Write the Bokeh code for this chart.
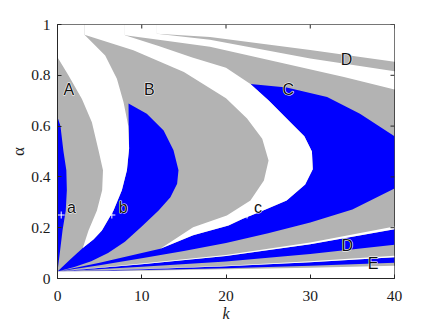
from bokeh.plotting import figure
from bokeh.models import Range1d, FixedTicker, NumeralTickFormatter
from bokeh.embed import file_html
from bokeh.resources import INLINE
from bokeh.core.properties import value

GRAY = "#b3b3b3"
BLUE = "#0000ff"
WHITE = "#ffffff"
AXC = "#262626"

x_ticks = [0, 10, 20, 30, 40]
y_ticks = [0, 0.2, 0.4, 0.6, 0.8, 1.0]

# ---- lower fan boundaries (alpha at fan_k) ----
fan_k = [0, 10, 20, 30, 40]
fan_L1 = [0.028, 0.031, 0.036, 0.042, 0.050]
fan_L2 = [0.028, 0.033, 0.040, 0.050, 0.062]
fan_L3 = [0.028, 0.036, 0.048, 0.064, 0.084]
fan_L3w = [0.028, 0.037, 0.050, 0.068, 0.090]
fan_L4 = [0.028, 0.046, 0.067, 0.096, 0.133]
fan_L5 = [0.028, 0.056, 0.089, 0.135, 0.194]
fan_L5w = [0.028, 0.059, 0.093, 0.142, 0.205]

# ---- region C (blue) ----
c_low_k = [0, 5, 10, 15, 20, 25, 30, 35, 40]
c_low_a = [0.028, 0.052, 0.08, 0.108, 0.14, 0.178, 0.22, 0.272, 0.354]
c_top_k = [22.9, 27.2, 32, 35.9, 40]
c_top_a = [0.766, 0.752, 0.715, 0.649, 0.56]
c_left_k = [12.2, 16.1, 20.3, 22, 24, 27.2, 29.4, 30.3, 30.2, 29.3, 27.4, 25.1, 22.9]
c_left_a = [0.117, 0.17, 0.209, 0.235, 0.262, 0.307, 0.37, 0.43, 0.5, 0.56, 0.623, 0.7, 0.766]
cu_k = [0, 5, 10, 12.2]
cu_a = [0.028, 0.062, 0.1, 0.117]

# ---- region a (blue) ----
ra_k = [0, 0.35, 0.71, 1.05, 1.11, 0.98, 0.6, 0.31, 0]
ra_a = [0.636, 0.6, 0.5, 0.426, 0.347, 0.268, 0.19, 0.11, 0.028]

# ---- region b (blue) ----
bl_k = [0, 1.5, 3.0, 4.3, 5.27, 6.65, 7.64, 8.24, 8.5, 8.45, 8.43]
bl_a = [0.028, 0.075, 0.12, 0.155, 0.189, 0.268, 0.347, 0.426, 0.512, 0.6, 0.689]
br_k = [8.43, 10.6, 12.6, 13.77, 14.36, 14.2, 13.4, 12.0, 10.0, 8.0, 6.0, 4.0, 2.0, 0]
br_a = [0.689, 0.649, 0.583, 0.505, 0.426, 0.373, 0.32, 0.268, 0.205, 0.145, 0.1, 0.068, 0.045, 0.028]

# ---- white gap between A and B ----
ar_k = [0, 1.31, 2.9, 4.08, 4.9, 5.4, 5.3, 4.68, 3.68, 3.0]
ar_a = [0.871, 0.799, 0.707, 0.615, 0.5, 0.426, 0.347, 0.268, 0.189, 0.12]
bleft_k = [3.0, 4.3, 5.27, 6.65, 7.64, 8.24, 8.5, 8.4, 7.84, 7.05, 5.66, 3.2]
bleft_a = [0.12, 0.155, 0.189, 0.268, 0.347, 0.426, 0.512, 0.6, 0.694, 0.786, 0.878, 0.96]

# ---- white tongue between B and C ----
bright_k = [3.2, 9, 15, 20, 22.5, 24.3, 25.05, 24.5, 22.9, 20.1, 16.1, 12.2]
bright_a = [0.96, 0.899, 0.813, 0.71, 0.63, 0.55, 0.465, 0.386, 0.307, 0.248, 0.202, 0.117]
t3low_k = [8, 12, 16, 20, 22.9]
t3low_a = [0.958, 0.915, 0.87, 0.83, 0.766]

# ---- upper strips ----
t3up_k = [8, 12, 18.1, 26, 34, 40]
t3up_a = [0.958, 0.94, 0.912, 0.853, 0.793, 0.744]
dlow_k = [11.8, 18.1, 30, 40]
dlow_a = [0.964, 0.94, 0.866, 0.816]
dup_k = [11.8, 18.1, 30, 40]
dup_a = [0.964, 0.951, 0.9, 0.853]

# ---- labels and markers ----
lab_text = ["A", "B", "C", "D", "D", "E", "a", "b", "c"]
lab_k = [1.35, 10.9, 27.4, 34.3, 34.4, 37.45, 1.67, 7.8, 23.8]
lab_a = [0.744, 0.744, 0.744, 0.864, 0.129, 0.060, 0.279, 0.279, 0.279]
mk_k = [0.44, 6.45, 22.5]
mk_a = [0.25, 0.25, 0.25]


def rev(v):
    return list(reversed(v))


def poly(*parts):
    xs, ys = [], []
    for kx, ay in parts:
        xs += list(kx)
        ys += list(ay)
    return xs, ys


p = figure(frame_width=337, frame_height=254, x_range=Range1d(0, 40), y_range=Range1d(0, 1),
           output_backend="svg", toolbar_location=None,
           min_border_left=57, min_border_right=38, min_border_top=24, min_border_bottom=45)
p.grid.visible = False
p.outline_line_color = AXC
p.outline_line_width = 1
p.background_fill_color = WHITE

gx, gy = poly(([0, 40, 40, 0], [0, 0, 1, 1]))

blues = [
    poly((ra_k, ra_a)),
    poly((bl_k, bl_a), (br_k[1:], br_a[1:])),
    poly((c_top_k, c_top_a), (rev(c_low_k), rev(c_low_a)), (cu_k[1:], cu_a[1:]),
         (c_left_k[1:], c_left_a[1:])),
    poly((fan_k, fan_L4), (rev(fan_k), rev(fan_L5))),
    poly((fan_k, fan_L2), (rev(fan_k), rev(fan_L3))),
]

whites = [
    poly(([0, 40], [0, 0]), (rev(fan_k), rev(fan_L1))),
    poly((fan_k, fan_L3), (rev(fan_k), rev(fan_L3w))),
    poly((fan_k, fan_L5), (rev(fan_k), rev(fan_L5w))),
    poly(([0], [1]), (ar_k, ar_a), (bleft_k[1:], bleft_a[1:]), ([3.2], [1])),
    poly((bright_k, bright_a), (c_left_k[1:], c_left_a[1:]), (rev(t3low_k)[1:], rev(t3low_a)[1:]),
         ([8, 3.2], [1, 1])),
    poly((t3up_k, t3up_a), ([40], [0.816]), (rev(dlow_k)[1:], rev(dlow_a)[1:]), ([11.8, 8], [1, 1])),
    poly((dup_k, dup_a), ([40, 11.8], [1, 1])),
]

p.patches([gx], [gy], fill_color=GRAY, line_color=None)
p.patches([b[0] for b in blues], [b[1] for b in blues], fill_color=BLUE, line_color=None)
p.patches([w[0] for w in whites], [w[1] for w in whites], fill_color=WHITE, line_color=None)

p.scatter(mk_k, mk_a, marker="cross", size=7, line_color=WHITE, line_width=1)

# labels: white halo underneath, dark text on top
p.text(lab_k, lab_a, text=lab_text, text_font=value("Liberation Sans"), text_font_size="16px",
       text_align="center", text_baseline="middle", text_color=WHITE,
       text_outline_color=WHITE)
p.text(lab_k, lab_a, text=lab_text, text_font=value("Liberation Sans"), text_font_size="16px",
       text_align="center", text_baseline="middle", text_color="#111111")

# inner ticks on the top and right sides of the box
tick_len_x = 40 * 4 / 337
tick_len_y = 4 / 254
p.segment(x0=x_ticks, y0=[1] * len(x_ticks), x1=x_ticks, y1=[1 - tick_len_y] * len(x_ticks),
          line_color=AXC, line_width=1)
p.segment(x0=[40] * len(y_ticks), y0=y_ticks, x1=[40 - tick_len_x] * len(y_ticks), y1=y_ticks,
          line_color=AXC, line_width=1)

for ax in (p.xaxis[0], p.yaxis[0]):
    ax.axis_line_color = AXC
    ax.major_tick_line_color = AXC
    ax.major_tick_in = 4
    ax.major_tick_out = 0
    ax.minor_tick_line_color = None
    ax.major_label_text_font = "Liberation Serif"
    ax.major_label_text_font_size = "15.5px"
    ax.major_label_text_color = "#1a1a1a"
    ax.axis_label_text_font = "Liberation Serif"
    ax.axis_label_text_color = "#1a1a1a"
    ax.formatter = NumeralTickFormatter(format="0.[0]")

p.xaxis[0].ticker = FixedTicker(ticks=x_ticks)
p.yaxis[0].ticker = FixedTicker(ticks=y_ticks)
p.xaxis[0].axis_label = "k"
p.xaxis[0].axis_label_text_font_style = "italic"
p.xaxis[0].axis_label_text_font_size = "16px"
p.xaxis[0].axis_label_standoff = 1
p.xaxis[0].major_label_standoff = 12
p.yaxis[0].axis_label = "α"
p.yaxis[0].axis_label_text_font_style = "normal"
p.yaxis[0].axis_label_text_font_size = "17px"
p.yaxis[0].axis_label_standoff = 0
p.yaxis[0].major_label_standoff = 7

open("out.html", "w").write(file_html(p, INLINE))
